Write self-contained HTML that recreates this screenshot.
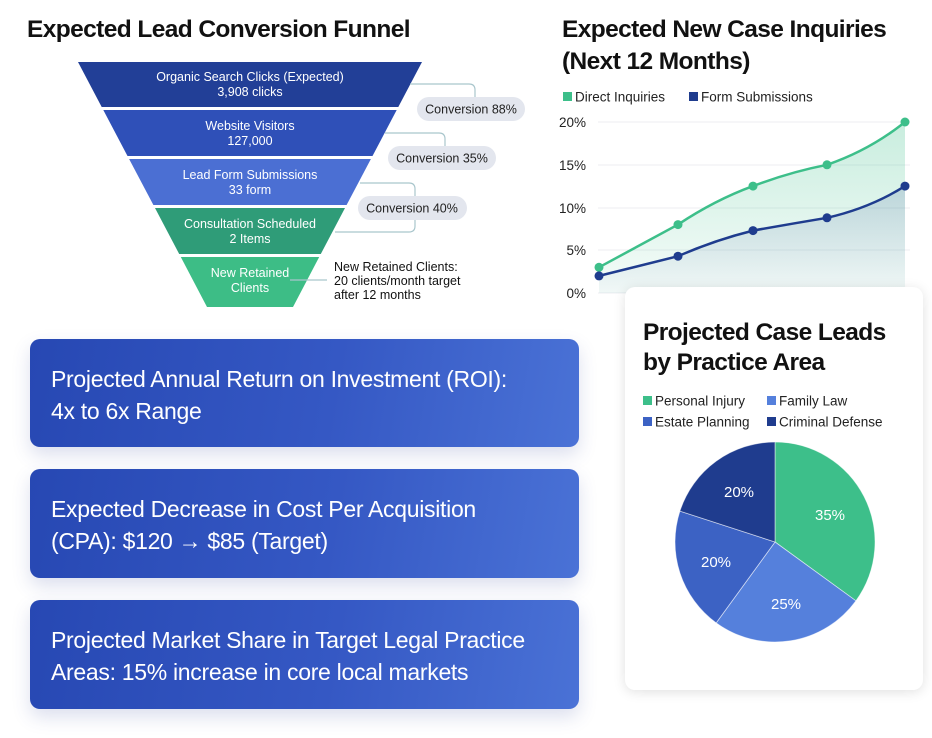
<!DOCTYPE html>
<html><head><meta charset="utf-8"><style>
html,body{margin:0;padding:0;background:#fff;}
body{width:932px;height:738px;position:relative;overflow:hidden;font-family:"Liberation Sans",sans-serif;}
.box{position:absolute;left:30px;width:549px;height:108px;border-radius:10px;background:linear-gradient(100deg,#2748b3 0%,#3558c4 55%,#4a72d6 100%);box-shadow:0 8px 18px rgba(60,80,160,0.18);color:#fff;font-size:23px;line-height:32px;letter-spacing:-0.3px;box-sizing:border-box;padding:24px 0 0 21px;}
.card{position:absolute;left:625px;top:287px;width:298px;height:403px;background:#fff;border-radius:10px;box-shadow:0 2px 12px rgba(0,0,0,0.12);}
</style></head><body>
<svg width="932" height="738" style="position:absolute;left:0;top:0" font-family="Liberation Sans, sans-serif">
<defs>
<linearGradient id="gg" x1="0" y1="0" x2="0" y2="1"><stop offset="0" stop-color="#3dbf8a" stop-opacity="0.28"/><stop offset="1" stop-color="#3dbf8a" stop-opacity="0.05"/></linearGradient>
<linearGradient id="ng" x1="0" y1="0" x2="0" y2="1"><stop offset="0" stop-color="#1f3c8e" stop-opacity="0.16"/><stop offset="1" stop-color="#1f3c8e" stop-opacity="0.02"/></linearGradient>
</defs>
<text x="27" y="37" font-size="24.5" font-weight="bold" fill="#111" letter-spacing="-0.6">Expected Lead Conversion Funnel</text>
<text x="562" y="37" font-size="24.5" font-weight="bold" fill="#111" letter-spacing="-0.6">Expected New Case Inquiries</text>
<text x="562" y="69" font-size="24.5" font-weight="bold" fill="#111" letter-spacing="-0.6">(Next 12 Months)</text>
<polygon points="78,62 422,62 398.3,107 101.7,107" fill="#223f97"/>
<polygon points="103.3,110 396.7,110 372.5,156 127.5,156" fill="#2f50b8"/>
<polygon points="129.1,159 370.9,159 346.6,205 153.4,205" fill="#4b6fd3"/>
<polygon points="155,208 345,208 320.8,254 179.2,254" fill="#2f9c78"/>
<polygon points="180.8,257 319.2,257 293,307 207,307" fill="#3dbd86"/>
<g fill="#fff" font-size="12.5" text-anchor="middle">
<text x="250" y="81">Organic Search Clicks (Expected)</text><text x="250" y="96">3,908 clicks</text>
<text x="250" y="130">Website Visitors</text><text x="250" y="145">127,000</text>
<text x="250" y="179">Lead Form Submissions</text><text x="250" y="194">33 form</text>
<text x="250" y="228">Consultation Scheduled</text><text x="250" y="243">2 Items</text>
<text x="250" y="277">New Retained</text><text x="250" y="292">Clients</text>
</g>
<g fill="none" stroke="#a9c6cc" stroke-width="1.2">
<path d="M410 84 H469 Q475 84 475 90 V97"/>
<path d="M385 133 H439 Q445 133 445 139 V146"/>
<path d="M360 183 H409 Q415 183 415 189 V196"/>
<path d="M335 232 H409 Q415 232 415 226 V220"/>
<path d="M290 280 H327"/>
</g>
<g fill="#e3e6ee"><rect x="417" y="97" width="108" height="24" rx="12"/><rect x="388" y="146" width="108" height="24" rx="12"/><rect x="358" y="196" width="109" height="24" rx="12"/></g>
<g fill="#222" font-size="12.5" text-anchor="middle">
<text x="471" y="113.5">Conversion 88%</text><text x="442" y="162.5">Conversion 35%</text><text x="412" y="212.5">Conversion 40%</text>
</g>
<g fill="#111" font-size="12.5"><text x="334" y="271">New Retained Clients:</text><text x="334" y="285">20 clients/month target</text><text x="334" y="299">after 12 months</text></g>
<rect x="563" y="92" width="9" height="9" fill="#3dbf8a"/><text x="575" y="101.5" font-size="13.5" fill="#222">Direct Inquiries</text>
<rect x="689" y="92" width="9" height="9" fill="#1f3c8e"/><text x="701" y="101.5" font-size="13.5" fill="#222">Form Submissions</text>
<g stroke="#eceef2" stroke-width="1"><line x1="598" y1="122" x2="910" y2="122"/><line x1="598" y1="165" x2="910" y2="165"/><line x1="598" y1="208" x2="910" y2="208"/><line x1="598" y1="250" x2="910" y2="250"/><line x1="598" y1="293" x2="910" y2="293"/></g>
<g font-size="13.5" fill="#222" text-anchor="end"><text x="586" y="127">20%</text><text x="586" y="170">15%</text><text x="586" y="213">10%</text><text x="586" y="255">5%</text><text x="586" y="298">0%</text></g>
<path d="M599 267.3 L678 224.6 Q715 200 753 186.1 Q790 172 827 164.8 Q870 150 905 122 L905 293 L599 293 Z" fill="url(#gg)"/>
<path d="M599 275.9 L678 256.2 Q715 240 753 230.6 Q790 224 827 217.8 Q870 208 905 186.1 L905 293 L599 293 Z" fill="url(#ng)"/>
<path d="M599 267.3 L678 224.6 Q715 200 753 186.1 Q790 172 827 164.8 Q870 150 905 122" fill="none" stroke="#3dbf8a" stroke-width="2.5"/>
<path d="M599 275.9 L678 256.2 Q715 240 753 230.6 Q790 224 827 217.8 Q870 208 905 186.1" fill="none" stroke="#1f3c8e" stroke-width="2.5"/>
<g fill="#3dbf8a"><circle cx="599" cy="267.3" r="4.5"/><circle cx="678" cy="224.6" r="4.5"/><circle cx="753" cy="186.1" r="4.5"/><circle cx="827" cy="164.8" r="4.5"/><circle cx="905" cy="122" r="4.5"/></g>
<g fill="#1f3c8e"><circle cx="599" cy="275.9" r="4.5"/><circle cx="678" cy="256.2" r="4.5"/><circle cx="753" cy="230.6" r="4.5"/><circle cx="827" cy="217.8" r="4.5"/><circle cx="905" cy="186.1" r="4.5"/></g>
</svg>
<div class="box" style="top:339px">Projected Annual Return on Investment (ROI):<br>4x to 6x Range</div>
<div class="box" style="top:469px;height:109px">Expected Decrease in Cost Per Acquisition<br>(CPA): $120 → $85 (Target)</div>
<div class="box" style="top:600px;height:109px">Projected Market Share in Target Legal Practice<br>Areas: 15% increase in core local markets</div>
<div class="card"></div>
<svg width="932" height="738" style="position:absolute;left:0;top:0" font-family="Liberation Sans, sans-serif">
<text x="643" y="340" font-size="24.5" font-weight="bold" fill="#111" letter-spacing="-0.6">Projected Case Leads</text>
<text x="643" y="370" font-size="24.5" font-weight="bold" fill="#111" letter-spacing="-0.6">by Practice Area</text>
<rect x="643" y="396" width="9" height="9" fill="#3dbf8a"/><text x="655" y="405.5" font-size="13.5" fill="#222">Personal Injury</text>
<rect x="767" y="396" width="9" height="9" fill="#5580dc"/><text x="779" y="405.5" font-size="13.5" fill="#222">Family Law</text>
<rect x="643" y="417" width="9" height="9" fill="#3c62c4"/><text x="655" y="426.5" font-size="13.5" fill="#222">Estate Planning</text>
<rect x="767" y="417" width="9" height="9" fill="#1f3c8e"/><text x="779" y="426.5" font-size="13.5" fill="#222">Criminal Defense</text>
<g stroke="#fff" stroke-width="0.8" stroke-opacity="0.6">
<path d="M775 542 L775 442 A100 100 0 0 1 855.9 600.8 Z" fill="#3dbf8a"/>
<path d="M775 542 L855.9 600.8 A100 100 0 0 1 716.2 622.9 Z" fill="#5580dc"/>
<path d="M775 542 L716.2 622.9 A100 100 0 0 1 679.9 511.1 Z" fill="#3c62c4"/>
<path d="M775 542 L679.9 511.1 A100 100 0 0 1 775 442 Z" fill="#1f3c8e"/>
</g>
<g fill="#fff" font-size="15" text-anchor="middle"><text x="830" y="520">35%</text><text x="786" y="609">25%</text><text x="716" y="567">20%</text><text x="739" y="497">20%</text></g>
</svg>
</body></html>
